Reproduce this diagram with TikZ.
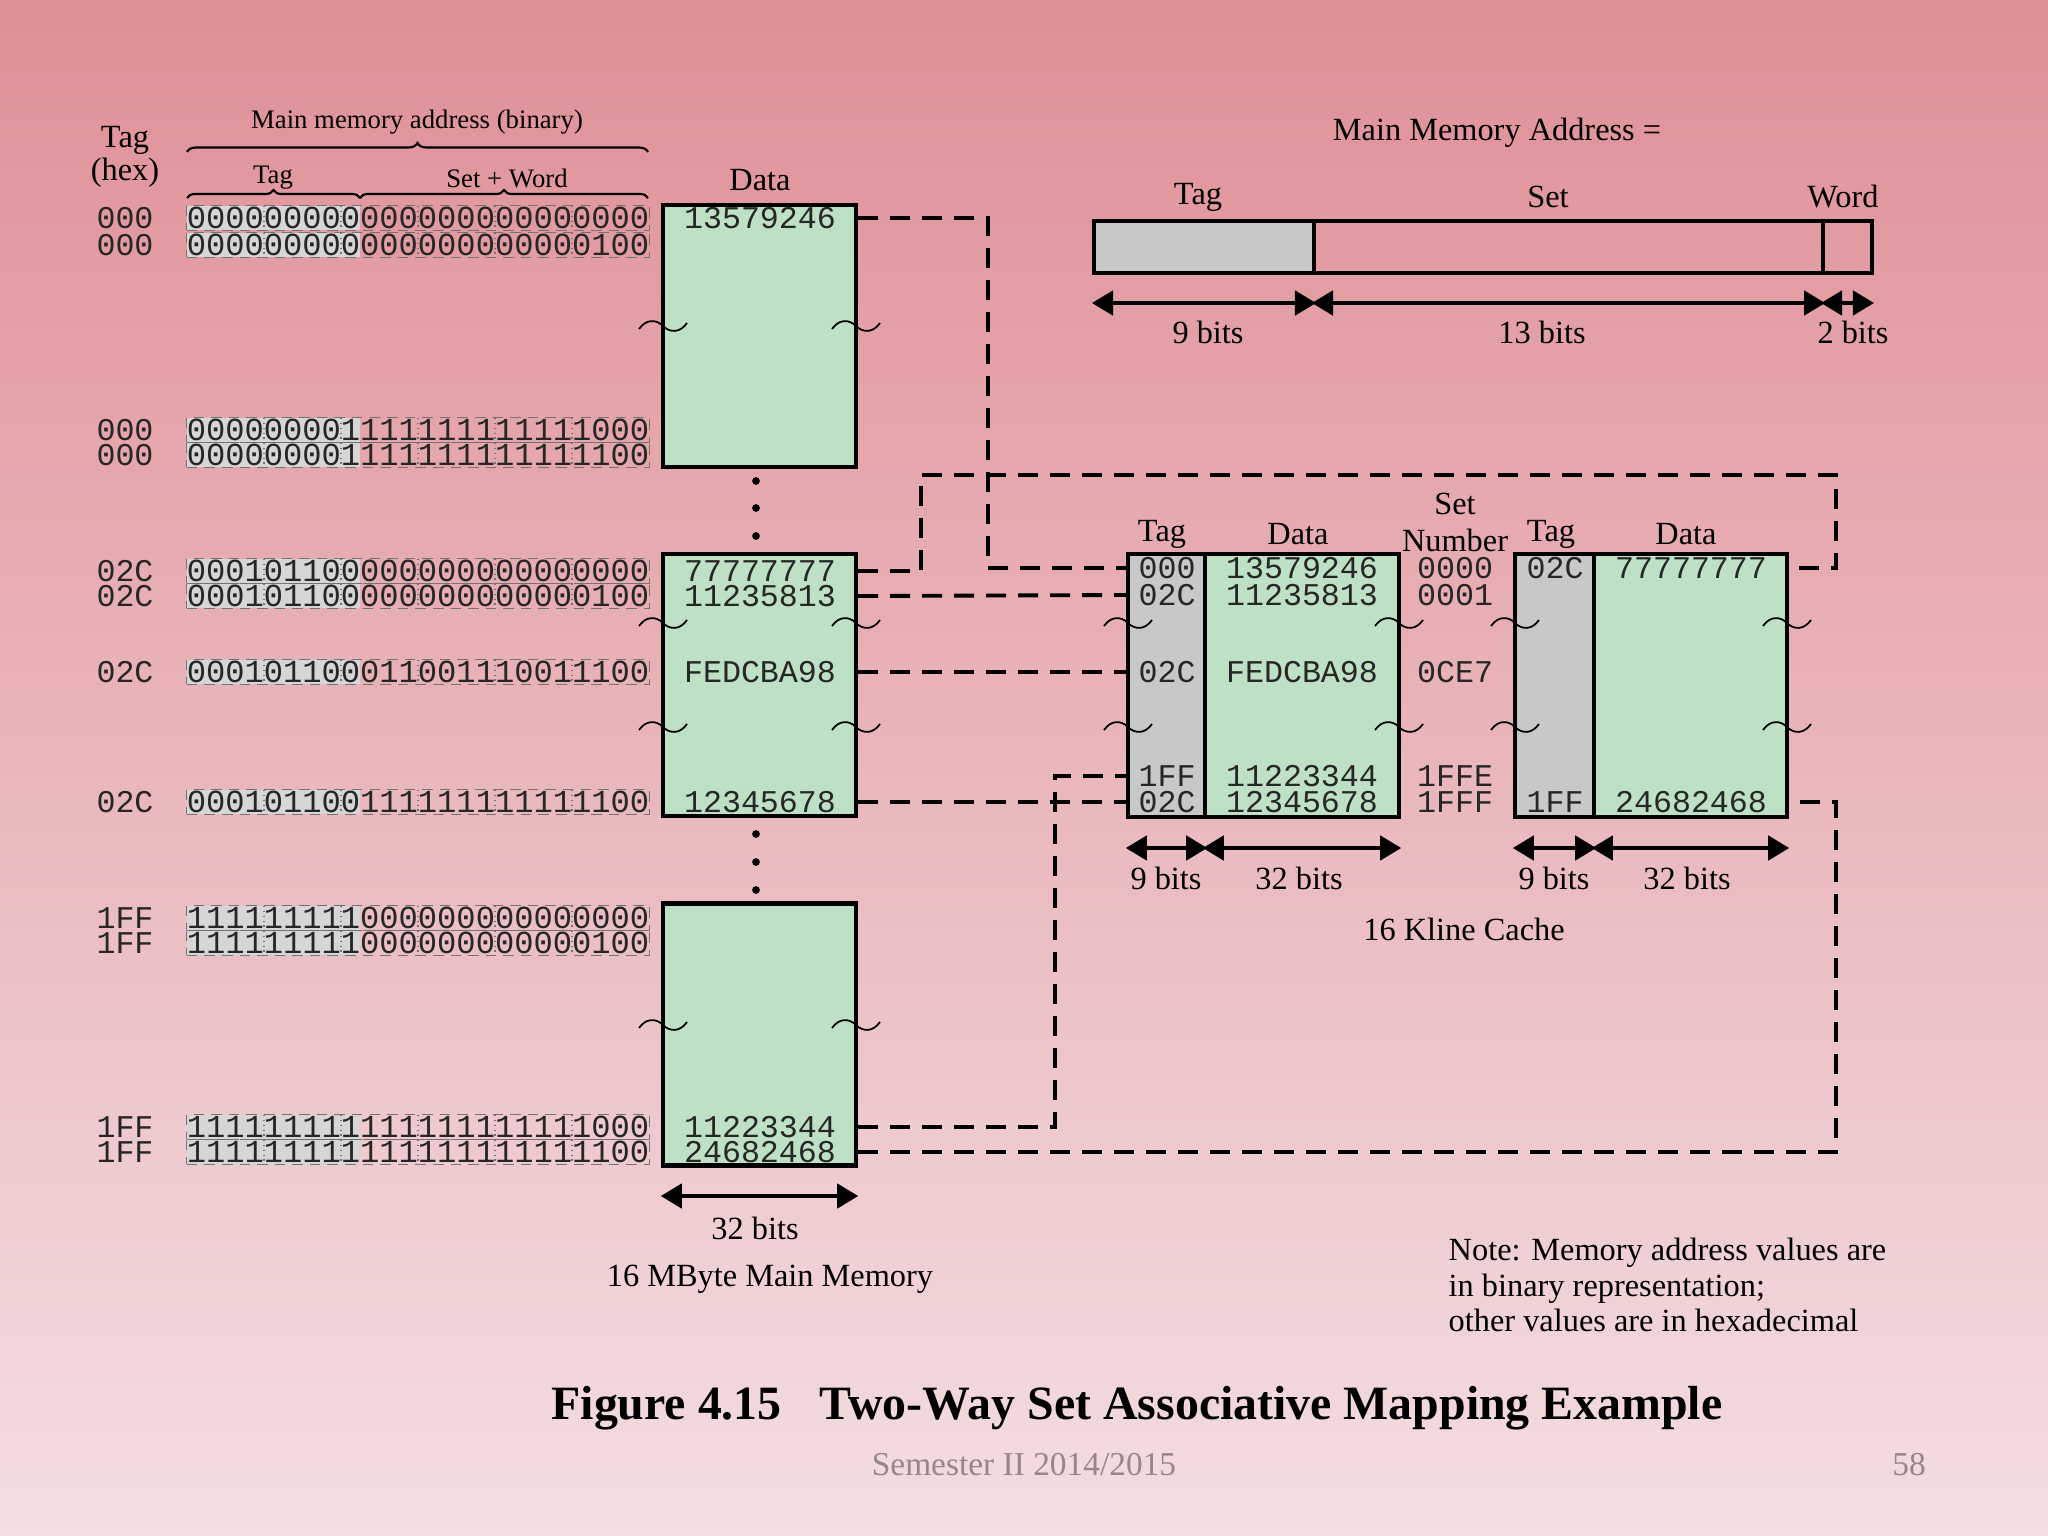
\documentclass[tikz,border=0pt]{standalone}
\usepackage{fontspec}
\setmainfont{Liberation Serif}
\setmonofont{Liberation Mono}
\usetikzlibrary{arrows.meta,decorations.pathreplacing,calc}

\definecolor{slidetop}{RGB}{223,143,150}
\definecolor{slidebottom}{RGB}{243,222,225}
\definecolor{memgreen}{RGB}{190,224,196}
\definecolor{taggray}{RGB}{200,200,200}
\definecolor{bitgray}{RGB}{214,214,214}
\definecolor{footgray}{RGB}{150,135,140}

\begin{document}
\begin{tikzpicture}[x=0.01cm, y=-0.01cm,
  font=\fontsize{9.2}{11}\selectfont,
  txt/.style={inner sep=0pt},
  small/.style={inner sep=0pt, font=\fontsize{7.6}{9}\selectfont},
  hexval/.style={inner sep=0pt, font=\ttfamily\fontsize{9}{11}\selectfont, text=black!85},
  bitrow/.style={draw=black!55, densely dashed, line width=0.4pt, inner sep=0pt,
    minimum width=4.62cm, minimum height=0.245cm, text=black!85,
    font=\ttfamily\fontsize{9.13}{11}\selectfont,
    path picture={
      \fill[bitgray] (path picture bounding box.north west) rectangle ([xshift=1.73cm]path picture bounding box.south west);
      \foreach \n in {1,...,5}
        \draw[black!55, densely dotted, line width=0.4pt] ([xshift=\n*0.77cm]path picture bounding box.north west) -- ([xshift=\n*0.77cm]path picture bounding box.south west);
    }},
  memblock/.style={draw, line width=1.2pt, fill=memgreen, minimum width=1.93cm, minimum height=2.62cm, inner sep=0pt},
  tagcol/.style={draw, line width=1.2pt, fill=taggray, minimum height=2.63cm, inner sep=0pt},
  datacol/.style={draw, line width=1.2pt, fill=memgreen, minimum height=2.63cm, inner sep=0pt},
  field/.style={draw, line width=1.1pt, minimum height=0.52cm, inner sep=0pt},
  link/.style={line width=1.1pt, dash pattern=on 5.7pt off 3.4pt},
  width/.style={{Triangle[length=6pt,width=7pt]}-{Triangle[length=6pt,width=7pt]}, line width=0.9pt},
  brk/.pic={\draw[line width=0.5pt] (-24,3) .. controls (-17,-7) and (-7,-7) .. (0,0) .. controls (7,7) and (17,7) .. (24,-3);}
]
\useasboundingbox (0,0) rectangle (2048,1536);
\shade[top color=slidetop, bottom color=slidebottom] (0,0) rectangle (2048,1536);

% headings over the address list
\node[txt] (taghex) at (125,140) {Tag};
\node[txt] (hexlbl) at (125,173) {(hex)};
\node[small] (addrlbl) at (417,122) {Main memory address (binary)};
\node[small] (taglbl) at (273,178) {Tag};
\node[small] (setwordlbl) at (507,178) {Set + Word};
\draw[decorate, decoration={brace, amplitude=0.09cm}, line width=0.6pt] (187,152) -- (648,152);
\draw[decorate, decoration={brace, amplitude=0.08cm}, line width=0.6pt] (187,198) -- (360,198);
\draw[decorate, decoration={brace, amplitude=0.08cm}, line width=0.6pt] (360,198) -- (648,198);
\node[txt] (datalbl) at (760,180) {Data};

% addresses
\node[hexval] (h1) at (125,218) {000};
\node[hexval] (h2) at (125,245) {000};
\node[hexval] (h3) at (125,430) {000};
\node[hexval] (h4) at (125,455) {000};
\node[hexval] (h5) at (125,571) {02C};
\node[hexval] (h6) at (125,596) {02C};
\node[hexval] (h7) at (125,672) {02C};
\node[hexval] (h8) at (125,802) {02C};
\node[hexval] (h9) at (125,918) {1FF};
\node[hexval] (h10) at (125,943) {1FF};
\node[hexval] (h11) at (125,1127) {1FF};
\node[hexval] (h12) at (125,1152) {1FF};

\node[bitrow] (b1) at (418,218) {000000000000000000000000};
\node[bitrow] (b2) at (418,245) {000000000000000000000100};
\node[bitrow] (b3) at (418,430) {000000001111111111111000};
\node[bitrow] (b4) at (418,455) {000000001111111111111100};
\node[bitrow] (b5) at (418,571) {000101100000000000000000};
\node[bitrow] (b6) at (418,596) {000101100000000000000100};
\node[bitrow] (b7) at (418,672) {000101100011001110011100};
\node[bitrow] (b8) at (418,802) {000101100111111111111100};
\node[bitrow] (b9) at (418,918) {111111111000000000000000};
\node[bitrow] (b10) at (418,943) {111111111000000000000100};
\node[bitrow] (b11) at (418,1127) {111111111111111111111000};
\node[bitrow] (b12) at (418,1152) {111111111111111111111100};

% main memory
\node[memblock] (mem1) at (759.5,336) {};
\node[memblock] (mem2) at (759.5,685) {};
\node[memblock] (mem3) at (759.5,1034.5) {};
\node[hexval] (m13579246) at (760,218) {13579246};
\node[hexval] (m77777777) at (760,571) {77777777};
\node[hexval] (m11235813) at (760,596) {11235813};
\node[hexval] (mFEDCBA98) at (760,672) {FEDCBA98};
\node[hexval] (m12345678) at (760,802) {12345678};
\node[hexval] (m11223344) at (760,1127) {11223344};
\node[hexval] (m24682468) at (760,1152) {24682468};
\fill (756,481) circle (1.1pt) (756,508) circle (1.1pt) (756,536) circle (1.1pt);
\fill (756,834) circle (1.1pt) (756,862) circle (1.1pt) (756,890) circle (1.1pt);
\pic at (663,326) {brk}; \pic at (856,326) {brk};
\pic at (663,623) {brk}; \pic at (856,623) {brk};
\pic at (663,727) {brk}; \pic at (856,727) {brk};
\pic at (663,1025) {brk}; \pic at (856,1025) {brk};
\coordinate (mbar) at (0,1196);
\draw[width] (mem3.west |- mbar) -- (mem3.east |- mbar);
\node[txt] (mbits) at (755,1228) {32 bits};
\node[txt] (memlbl) at (770,1279) {16 MByte Main Memory};

% address format
\node[txt] (mmaddr) at (1497,133) {Main Memory Address =};
\node[field, fill=taggray, minimum width=2.2cm] (ftag) at (1204,247) {};
\node[field, minimum width=5.09cm] (fset) at (1568.5,247) {};
\node[field, minimum width=0.49cm] (fword) at (1847.5,247) {};
\node[txt] at (1198,197) {Tag};
\node[txt] at (1548,197) {Set};
\node[txt] at (1843,197) {Word};
\coordinate (abar) at (0,303);
\draw[width] (ftag.west |- abar) -- (ftag.east |- abar);
\draw[width] (fset.west |- abar) -- (fset.east |- abar);
\draw[width] (fword.west |- abar) -- (fword.east |- abar);
\node[txt] at (1208,332) {9 bits};
\node[txt] at (1542,332) {13 bits};
\node[txt] at (1853,332) {2 bits};

% cache
\node[tagcol, minimum width=0.77cm] (way1tag) at (1166.5,685.5) {};
\node[datacol, minimum width=1.94cm] (way1data) at (1302,685.5) {};
\node[tagcol, minimum width=0.79cm] (way2tag) at (1554.5,685.5) {};
\node[datacol, minimum width=1.93cm] (way2data) at (1690.5,685.5) {};
\node[txt] at (1162,534) {Tag};
\node[txt] at (1298,534) {Data};
\node[txt] at (1455,504) {Set};
\node[txt] at (1455,540) {Number};
\node[txt] at (1551,534) {Tag};
\node[txt] at (1686,534) {Data};

\node[hexval] at (1167,568) {000};
\node[hexval] at (1167,595) {02C};
\node[hexval] at (1167,672) {02C};
\node[hexval] at (1167,776) {1FF};
\node[hexval] at (1167,802) {02C};
\node[hexval] (c13579246) at (1302,568) {13579246};
\node[hexval] (c11235813) at (1302,595) {11235813};
\node[hexval] (cFEDCBA98) at (1302,672) {FEDCBA98};
\node[hexval] (c11223344) at (1302,776) {11223344};
\node[hexval] (c12345678) at (1302,802) {12345678};
\node[hexval] at (1455,568) {0000};
\node[hexval] at (1455,595) {0001};
\node[hexval] at (1455,672) {0CE7};
\node[hexval] at (1455,776) {1FFE};
\node[hexval] at (1455,802) {1FFF};
\node[hexval] at (1555,568) {02C};
\node[hexval] at (1555,802) {1FF};
\node[hexval] (c77777777) at (1691,568) {77777777};
\node[hexval] (c24682468) at (1691,802) {24682468};
\pic at (1128,623) {brk}; \pic at (1399,623) {brk};
\pic at (1128,727) {brk}; \pic at (1399,727) {brk};
\pic at (1515,623) {brk}; \pic at (1787,623) {brk};
\pic at (1515,727) {brk}; \pic at (1787,727) {brk};

\coordinate (wbar) at (0,848);
\draw[width] (way1tag.west |- wbar) -- (way1tag.east |- wbar);
\draw[width] (way1data.west |- wbar) -- (way1data.east |- wbar);
\draw[width] (way2tag.west |- wbar) -- (way2tag.east |- wbar);
\draw[width] (way2data.west |- wbar) -- (way2data.east |- wbar);
\node[txt] at (1166,878) {9 bits};
\node[txt] at (1299,878) {32 bits};
\node[txt] at (1554,878) {9 bits};
\node[txt] at (1687,878) {32 bits};
\node[txt] (cachelbl) at (1464,929) {16 Kline Cache};

% mapping lines
\coordinate (turnA) at (988,218);
\coordinate (turnB) at (921,475);
\coordinate (turnC) at (1836,475);
\coordinate (turnD) at (1055,773);
\draw[link] (m13579246 -| mem1.east) -- (turnA) |- (c13579246 -| way1tag.west);
\draw[link] (m77777777 -| mem2.east) -| (turnB) -- (turnC) |- (c77777777 -| way2data.east);
\draw[link] (m11235813 -| mem2.east) -- (c11235813 -| way1tag.west);
\draw[link] (mFEDCBA98 -| mem2.east) -- (cFEDCBA98 -| way1tag.west);
\draw[link] (m12345678 -| mem2.east) -- (c12345678 -| way1tag.west);
\draw[link] (m11223344 -| mem3.east) -- (m11223344 -| turnD) |- (c11223344 -| way1tag.west);
\draw[link] (m24682468 -| mem3.east) -- (m24682468 -| turnC) |- (c24682468 -| way2data.east);

% note and caption
\node[txt, align=left, anchor=west, font=\fontsize{9.2}{10}\selectfont] (note) at (1448,1285) {Note: Memory address values are\\in binary representation;\\other values are in hexadecimal};
\node[txt, font=\bfseries\fontsize{13.6}{16}\selectfont] (title) at (1137,1408) {Figure 4.15\hspace{0.8em}Two-Way Set Associative Mapping Example};
\node[txt, text=footgray, font=\fontsize{9.5}{11}\selectfont] (semester) at (1024,1465) {Semester II 2014/2015};
\node[txt, text=footgray, font=\fontsize{9.5}{11}\selectfont] (pageno) at (1909,1465) {58};
\end{tikzpicture}
\end{document}
